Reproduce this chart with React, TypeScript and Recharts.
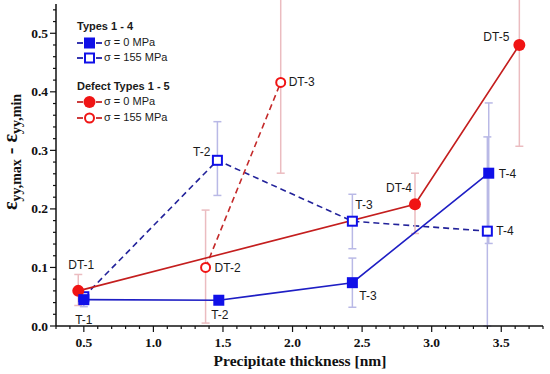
import React from "react";
import { ComposedChart, Line, XAxis, YAxis, ErrorBar, Legend } from "recharts";

// Types 1 - 4, sigma = 0 MPa
const typesZeroX = [0.5, 1.47, 2.43, 3.41];
const typesZeroY = [0.045, 0.044, 0.074, 0.261];
const typesZeroErr = [[0.012, 0.01], [0, 0], [0.042, 0.042], [0.12, 0.12]];
const typesZeroNames = ["T-1", "T-2", "T-3", "T-4"];

// Types 1 - 4, sigma = 155 MPa
const typesStressX = [0.5, 1.46, 2.43, 3.4];
const typesStressY = [0.05, 0.283, 0.179, 0.162];
const typesStressErr = [[0, 0], [0.06, 0.066], [0.047, 0.046], [0.162, 0.161]];
const typesStressNames = ["", "T-2", "T-3", "T-4"];

// Defect types 1 - 5, sigma = 0 MPa
const defectZeroX = [0.46, 2.88, 3.63];
const defectZeroY = [0.06, 0.208, 0.48];
const defectZeroErr = [[0.025, 0.028], [0.05, 0.053], [0.173, 0.2]];
const defectZeroNames = ["DT-1", "DT-4", "DT-5"];

// Defect types 1 - 5, sigma = 155 MPa
const defectStressX = [1.375, 1.915];
const defectStressY = [0.1, 0.416];
const defectStressErr = [[0.095, 0.098], [0.155, 0.2]];
const defectStressNames = ["DT-2", "DT-3"];

const xDomain = [0.3, 3.8];
const yDomain = [0, 0.55];
const xMajorStep = 0.5;
const xMinorStep = 0.1;
const yMajorStep = 0.1;
const yMinorStep = 0.02;

const buildTicks = (from: number, to: number, step: number) => {
  const out: number[] = [];
  for (let v = from; v <= to + 1e-9; v += step) out.push(+v.toFixed(3));
  return out;
};
const xTicks = buildTicks(0.3, 3.8, xMinorStep);
const yTicks = buildTicks(0, 0.54, yMinorStep);
const isMajor = (v: number, step: number) => Math.abs(v / step - Math.round(v / step)) < 1e-6;

const toRows = (xs: number[], ys: number[], errs: number[][]) =>
  xs.map((x, i) => ({ x, y: ys[i], err: errs[i] }));

// label placement [dx, dy, anchor]
const typesZeroLabelPos: any[] = [[0, 20, "middle"], [1, 15, "middle"], [7, 13, "start"], [10, 1, "start"]];
const typesStressLabelPos: any[] = [[0, 0, "middle"], [-7, -8, "end"], [3, -16, "start"], [9, 0, "start"]];
const defectZeroLabelPos: any[] = [[3, -26, "middle"], [-3, -16, "end"], [-10, -8, "end"]];
const defectStressLabelPos: any[] = [[9, 1, "start"], [8, 0, "start"]];

const CHART_ID = "strain";
const plotClip = `url(#${CHART_ID}-clip)`;

const BLUE = "#1010e8";
const RED = "#f01414";
const serif = "'Liberation Serif', 'Times New Roman', serif";
const sans = "'Liberation Sans', Arial, sans-serif";

function Marker({ shape, cx, cy }: any) {
  if (shape === "squareFilled")
    return <rect x={cx - 5.5} y={cy - 5.5} width={11} height={11} fill={BLUE} />;
  if (shape === "squareOpen")
    return <rect x={cx - 4.5} y={cy - 4.5} width={9} height={9} fill="#fff" stroke={BLUE} strokeWidth={2} />;
  if (shape === "circleFilled") return <circle cx={cx} cy={cy} r={6} fill={RED} />;
  return <circle cx={cx} cy={cy} r={4.5} fill="#fff" stroke={RED} strokeWidth={2} />;
}

function makeDot(shape: string, names: string[], pos: any[]) {
  return (p: any) => {
    const { cx, cy, index } = p;
    if (cx == null || cy == null) return <g key={`e${index}`} />;
    const [dx, dy, anchor] = pos[index];
    return (
      <g key={`d${index}`}>
        <Marker shape={shape} cx={cx} cy={cy} />
        {names[index] ? (
          <text
            x={cx + dx}
            y={cy + dy}
            textAnchor={anchor}
            dominantBaseline="central"
            style={{ fontFamily: sans, fontSize: 12 }}
            fill="#1a1a1a"
          >
            {names[index]}
          </text>
        ) : null}
      </g>
    );
  };
}

const tickStyle = { fontFamily: serif, fontSize: 13.5, fontWeight: 700 };

const BottomTick = (p: any) => {
  const v = p.payload.value;
  const major = isMajor(v, xMajorStep);
  return (
    <g>
      <line x1={p.x} x2={p.x} y1={p.y} y2={p.y + (major ? 6 : 3)} stroke="#111" strokeWidth={1.2} />
      {major && (
        <text x={p.x} y={p.y + 21} textAnchor="middle" fill="#111" style={tickStyle}>
          {v.toFixed(1)}
        </text>
      )}
    </g>
  );
};

const TopTick = (p: any) => {
  const major = isMajor(p.payload.value, xMajorStep);
  return <line x1={p.x} x2={p.x} y1={p.y} y2={p.y + (major ? 6 : 3)} stroke="#111" strokeWidth={1.2} />;
};

const LeftTick = (p: any) => {
  const v = p.payload.value;
  const major = isMajor(v, yMajorStep);
  return (
    <g>
      <line x1={p.x} x2={p.x - (major ? 6 : 3)} y1={p.y} y2={p.y} stroke="#111" strokeWidth={1.2} />
      {major && (
        <text x={p.x - 8} y={p.y + 4.5} textAnchor="end" fill="#111" style={tickStyle}>
          {v.toFixed(1)}
        </text>
      )}
    </g>
  );
};

const RightTick = (p: any) => {
  const major = isMajor(p.payload.value, yMajorStep);
  return <line x1={p.x} x2={p.x - (major ? 6 : 3)} y1={p.y} y2={p.y} stroke="#111" strokeWidth={1.2} />;
};

const XTitle = () => (
  <text x={300} y={366} textAnchor="middle" fill="#111" style={{ fontFamily: serif, fontSize: 15.5, fontWeight: 700 }}>
    Precipitate thickness [nm]
  </text>
);

const YTitle = () => (
  <text
    transform="translate(17, 152) rotate(-90)"
    textAnchor="middle"
    fill="#111"
    style={{ fontFamily: serif, fontSize: 20, fontWeight: 700 }}
  >
    ε
    <tspan fontSize={14} dy={4}>yy,max</tspan>
    <tspan dy={-4}> - ε</tspan>
    <tspan fontSize={14} dy={4}>yy,min</tspan>
  </text>
);

function LegendIcon({ shape, color }: any) {
  return (
    <svg width={25} height={12} style={{ display: "inline-block", verticalAlign: "middle", marginRight: 2 }}>
      <line x1={0} x2={6} y1={6} y2={6} stroke={color} strokeWidth={1.8} />
      <line x1={19} x2={25} y1={6} y2={6} stroke={color} strokeWidth={1.8} />
      <Marker shape={shape} cx={12.5} cy={6} />
    </svg>
  );
}

const legendRows = [
  { title: "Types 1 - 4" },
  { shape: "squareFilled", color: "#2020a8", label: "σ = 0 MPa" },
  { shape: "squareOpen", color: "#2020a8", label: "σ = 155 MPa" },
  { gap: true },
  { title: "Defect Types 1 - 5" },
  { shape: "circleFilled", color: "#c82828", label: "σ = 0 MPa" },
  { shape: "circleOpen", color: "#c82828", label: "σ = 155 MPa" },
];

const LegendBox = () => (
  <div style={{ fontFamily: sans, fontSize: 11, color: "#1a1a1a", lineHeight: "15.5px" }}>
    {legendRows.map((r: any, i) =>
      r.gap ? (
        <div key={i} style={{ height: 13 }} />
      ) : r.title ? (
        <div key={i} style={{ fontWeight: "bold", height: 15.5 }}>
          {r.title}
        </div>
      ) : (
        <div key={i} style={{ height: 15.5, whiteSpace: "nowrap" }}>
          <LegendIcon shape={r.shape} color={r.color} />
          <span style={{ verticalAlign: "middle" }}>{r.label}</span>
        </div>
      )
    )}
  </div>
);

export default function App() {
  return (
    <div style={{ position: "absolute", left: 0, top: 0, width: 550, height: 374, background: "#fff" }}>
      <ComposedChart id={CHART_ID} width={550} height={374} margin={{ top: 4, right: 7, bottom: 0, left: 0 }}>
        <XAxis
          dataKey="x"
          type="number"
          domain={xDomain}
          ticks={xTicks}
          interval={0}
          allowDataOverflow
          height={48}
          tickSize={0}
          tickMargin={0}
          tickLine={false}
          tick={BottomTick}
          axisLine={{ stroke: "#111", strokeWidth: 1.5 }}
          label={{ content: XTitle }}
        />
        <XAxis
          xAxisId="top"
          orientation="top"
          dataKey="x"
          type="number"
          domain={xDomain}
          ticks={xTicks}
          interval={0}
          allowDataOverflow
          height={0}
          tickSize={0}
          tickMargin={0}
          tickLine={false}
          tick={TopTick}
          axisLine={{ stroke: "#111", strokeWidth: 1.5 }}
        />
        <YAxis
          type="number"
          domain={yDomain}
          ticks={yTicks}
          interval={0}
          allowDataOverflow
          width={56}
          tickSize={0}
          tickMargin={0}
          tickLine={false}
          tick={LeftTick}
          axisLine={{ stroke: "#111", strokeWidth: 1.5 }}
          label={{ content: YTitle }}
        />
        <YAxis
          yAxisId="right"
          orientation="right"
          type="number"
          domain={yDomain}
          ticks={yTicks}
          interval={0}
          allowDataOverflow
          width={0}
          tickSize={0}
          tickMargin={0}
          tickLine={false}
          tick={RightTick}
          axisLine={{ stroke: "#111", strokeWidth: 1.5 }}
        />
        <Legend
          layout="horizontal"
          verticalAlign="middle"
          align="center"
          content={LegendBox}
          wrapperStyle={{ left: 77, top: 19, width: "auto" }}
        />
        <Line
          data={toRows(typesStressX, typesStressY, typesStressErr)}
          dataKey="y"
          stroke="#22229a"
          strokeWidth={1.6}
          strokeDasharray="6 4"
          dot={makeDot("squareOpen", typesStressNames, typesStressLabelPos)}
          activeDot={false}
          isAnimationActive={false}
        >
          <ErrorBar dataKey="err" direction="y" width={4} stroke="#b9b9e6" strokeWidth={1.5} clipPath={plotClip} />
        </Line>
        <Line
          data={toRows(defectStressX, defectStressY, defectStressErr)}
          dataKey="y"
          stroke="#c42a2a"
          strokeWidth={1.6}
          strokeDasharray="6 4"
          dot={makeDot("circleOpen", defectStressNames, defectStressLabelPos)}
          activeDot={false}
          isAnimationActive={false}
        >
          <ErrorBar dataKey="err" direction="y" width={4} stroke="#ebbcc0" strokeWidth={1.5} clipPath={plotClip} />
        </Line>
        <Line
          data={toRows(defectZeroX, defectZeroY, defectZeroErr)}
          dataKey="y"
          stroke="#c41e1e"
          strokeWidth={1.6}
          dot={makeDot("circleFilled", defectZeroNames, defectZeroLabelPos)}
          activeDot={false}
          isAnimationActive={false}
        >
          <ErrorBar dataKey="err" direction="y" width={4} stroke="#ebbcc0" strokeWidth={1.5} clipPath={plotClip} />
        </Line>
        <Line
          data={toRows(typesZeroX, typesZeroY, typesZeroErr)}
          dataKey="y"
          stroke="#1e1ec4"
          strokeWidth={1.6}
          dot={makeDot("squareFilled", typesZeroNames, typesZeroLabelPos)}
          activeDot={false}
          isAnimationActive={false}
        >
          <ErrorBar dataKey="err" direction="y" width={4} stroke="#b9b9e6" strokeWidth={1.5} clipPath={plotClip} />
        </Line>
      </ComposedChart>
    </div>
  );
}
